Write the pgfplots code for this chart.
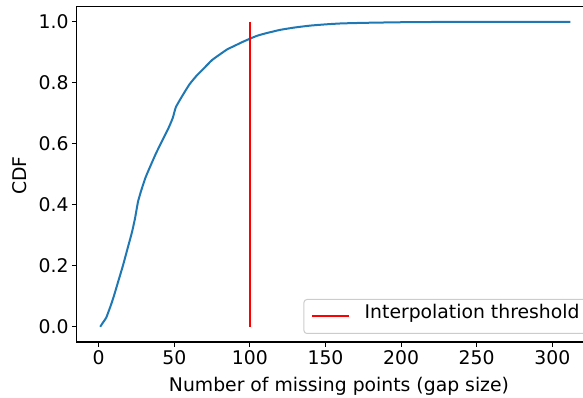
\documentclass[border=0pt]{standalone}
\usepackage{fontspec}
\setmainfont{DejaVu Sans}
\usepackage{pgfplots}
\pgfplotsset{compat=1.18}
\definecolor{mplblue}{HTML}{1F77B4}
\pgfplotstableread{
x y
1 0
3 0.015
5 0.03
8 0.07
10 0.1
13 0.15
16 0.2
19 0.255
22 0.31
24 0.355
26 0.41
28 0.445
31 0.49
34 0.525
38 0.57
42 0.61
46 0.65
49 0.685
51 0.72
55 0.755
60 0.795
65 0.825
70 0.85
75 0.875
80 0.893
85 0.91
90 0.922
95 0.934
100 0.945
105 0.955
110 0.962
120 0.974
130 0.982
140 0.988
150 0.992
160 0.995
175 0.997
200 0.999
230 1.0
312 1.0
}\cdfdata
\pgfplotstableread{
x y
100 0
100 1
}\threshdata
\begin{document}
\begin{tikzpicture}
\begin{axis}[
  name=ax,
  at={(0,0)}, anchor=south west,
  scale only axis, width=517.3pt, height=335.3pt,
  xmin=-14.55, xmax=327.6, ymin=-0.05, ymax=1.05,
  xtick={0,50,100,150,200,250,300},
  ytick={0,0.2,0.4,0.6,0.8,1.0},
  yticklabel style={/pgf/number format/fixed, /pgf/number format/fixed zerofill, /pgf/number format/precision=1},
  /pgf/number format/assume math mode=true,
  tick align=outside, xtick pos=bottom, ytick pos=left,
  major tick length=4.7pt,
  tick style={black, line width=1.1pt},
  axis line style={line width=1.1pt},
  ticklabel style={font=\fontsize{18.8}{22}\selectfont},
  xlabel={Number of missing points (gap size)},
  ylabel={CDF},
  label style={font=\fontsize{18.8}{22}\selectfont},
  xlabel style={at={(axis description cs:0.507,-0.1482)}, anchor=base},
  ylabel style={at={(axis description cs:-0.0978,0.4966)}, anchor=base},
  legend style={at={(axis description cs:1,0)}, anchor=south east, xshift=-7pt, yshift=8pt,
    draw=black!20, rounded corners=3pt, line width=1pt, inner xsep=7pt, inner ysep=12pt,
    font=\fontsize{18.8}{22}\selectfont,
    nodes={inner sep=0pt, text height=0.75em, text depth=0.25em},
    /tikz/every odd column/.append style={column sep=15pt}},
  legend image code/.code={\draw[#1, line width=2pt] (0pt,0pt) -- (36.7pt,0pt);},
]
\addplot[mplblue, line width=2pt, smooth, tension=0.3, forget plot] table[x=x,y=y] {\cdfdata};
\addplot[red, line width=2pt] table[x=x,y=y] {\threshdata};
\addlegendentry{Interpolation threshold}
\coordinate (bl) at (rel axis cs:0,0);
\end{axis}
\pgfresetboundingbox
\path (bl) ++(-76.7pt,-56pt) rectangle ++(583pt,398pt);
\end{tikzpicture}
\end{document}
